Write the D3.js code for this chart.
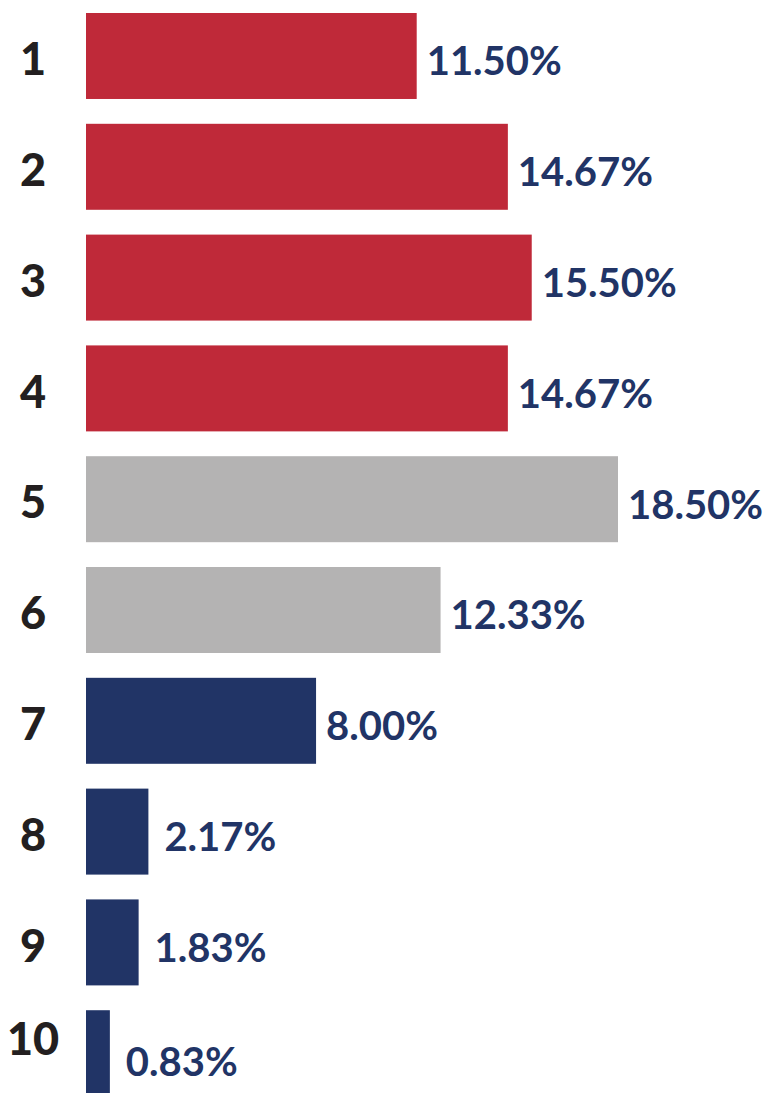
<!DOCTYPE html>
<html>
<head>
<meta charset="utf-8">
<script src="https://cdn.jsdelivr.net/npm/d3@7"></script>
<style>
  html, body { margin: 0; padding: 0; background: #ffffff; }
  svg { display: block; }
</style>
</head>
<body>
<script>
const categories = ["1", "2", "3", "4", "5", "6", "7", "8", "9", "10"];
const values = [11.50, 14.67, 15.50, 14.67, 18.50, 12.33, 8.00, 2.17, 1.83, 0.83];
const valueLabels = ["11.50%", "14.67%", "15.50%", "14.67%", "18.50%", "12.33%", "8.00%", "2.17%", "1.83%", "0.83%"];
const groups = ["top", "top", "top", "top", "middle", "middle", "bottom", "bottom", "bottom", "bottom"];
const groupColors = { top: "#BF2939", middle: "#B4B3B3", bottom: "#213466" };

const W = 767, H = 1093;
const svg = d3.select("body").append("svg").attr("width", W).attr("height", H);

const x = d3.scaleLinear().domain([0, 18.5]).range([86, 618]);
const y = d3.scaleBand().domain(categories).range([13, 13 + 110.8 * 9 + 86]).paddingInner(0.224).paddingOuter(0).align(0);

const data = categories.map((c, i) => ({ c, v: values[i], label: valueLabels[i], g: groups[i] }));

svg.selectAll("rect.bar").data(data).join("rect")
  .attr("class", "bar")
  .attr("x", x(0))
  .attr("y", d => y(d.c))
  .attr("width", d => x(d.v) - x(0))
  .attr("height", y.bandwidth())
  .attr("fill", d => groupColors[d.g]);

svg.selectAll("text.cat").data(data).join("text")
  .attr("class", "cat")
  .attr("x", 33)
  .attr("y", (d, i) => y(d.c) + y.bandwidth() / 2 + (i === 9 ? -14 : 3))
  .attr("dy", "0.36em")
  .attr("text-anchor", "middle")
  .attr("font-family", "Lato, 'Open Sans', sans-serif")
  .attr("font-weight", 900)
  .attr("font-size", 45)
  .attr("fill", "#231F20")
  .text(d => d.c);

svg.selectAll("text.val").data(data).join("text")
  .attr("class", "val")
  .attr("x", d => x(d.v) + (d.v < 5 ? 16 : 10))
  .attr("y", (d, i) => y(d.c) + y.bandwidth() / 2 + (i === 9 ? 8 : 5))
  .attr("dy", "0.36em")
  .attr("font-family", "Lato, 'Open Sans', sans-serif")
  .attr("font-weight", 700)
  .attr("font-size", 40)
  .attr("fill", "#213466")
  .text(d => d.label);
</script>
</body>
</html>
